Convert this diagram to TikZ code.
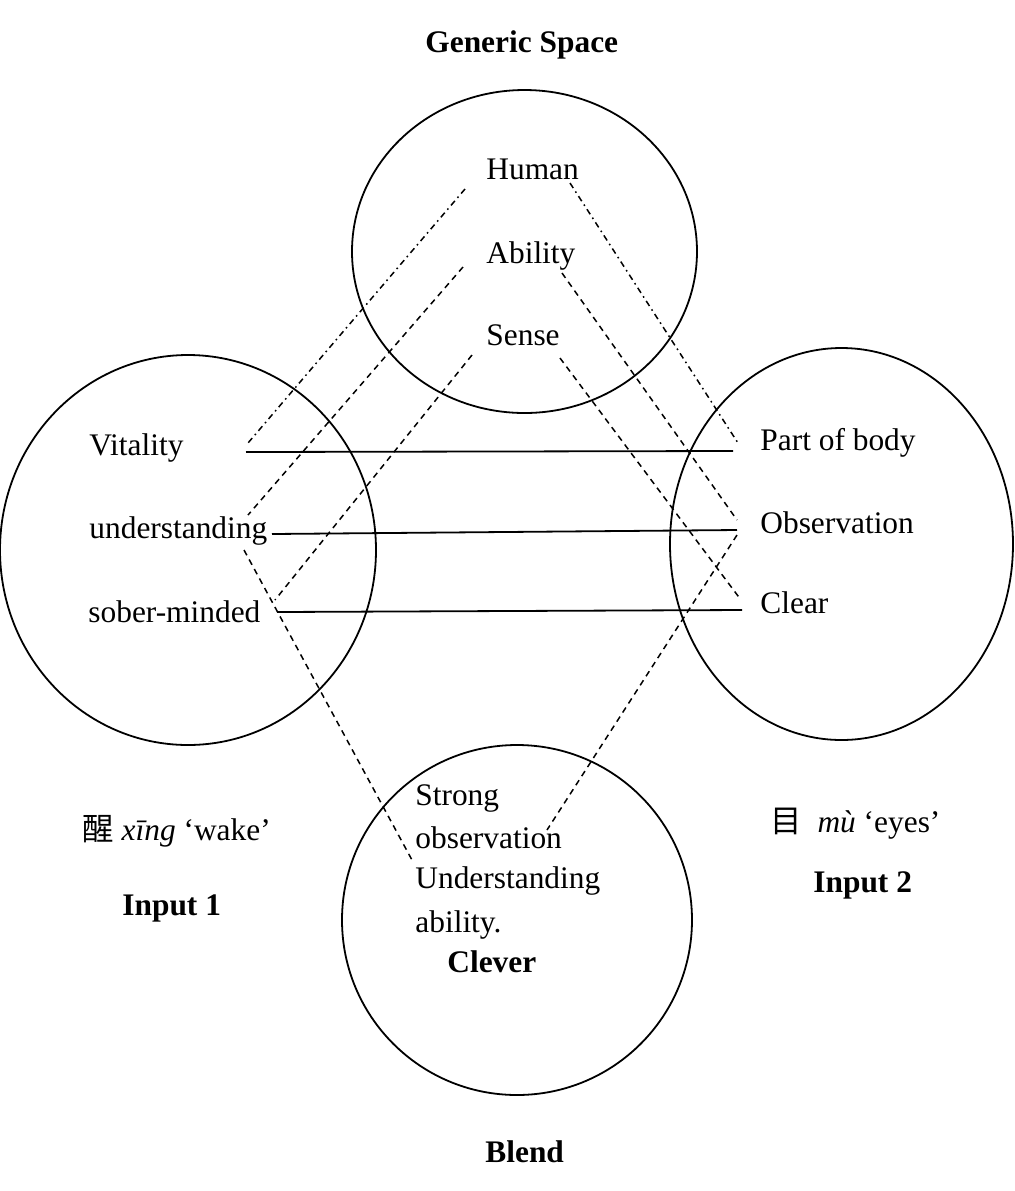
\documentclass[tikz,border=0pt]{standalone}
\usepackage{fontspec}
\setmainfont{Liberation Serif}
\newfontfamily\cjk{Noto Sans CJK SC}
\usetikzlibrary{shapes.geometric}
\tikzset{
  space/.style={draw, ellipse, inner sep=0pt, line width=0.9pt},
  lbl/.style={anchor=base west, inner sep=0pt, font=\fontsize{15.7}{19}\selectfont},
  blbl/.style={anchor=base west, inner sep=0pt, font=\fontsize{15.7}{19}\selectfont\bfseries},
  solidlink/.style={line width=0.9pt},
  dashlink/.style={line width=0.75pt, dash pattern=on 3pt off 2.4pt},
  dotdashlink/.style={line width=0.75pt, dash pattern=on 3pt off 2pt on 0.8pt off 2pt}
}
\begin{document}
\begin{tikzpicture}[x=0.5pt,y=-0.5pt]
\useasboundingbox[fill=white] (0,0) rectangle (1014,1191);
% spaces
\node[space, minimum width=172.5pt, minimum height=161.5pt] (generic) at (524.5,251.5) {};
\node[space, minimum width=188pt, minimum height=195pt] (input1) at (188,550) {};
\node[space, minimum width=171.5pt, minimum height=196pt] (input2) at (841.5,544) {};
\node[space, minimum width=175pt, minimum height=175pt] (blend) at (517,920) {};
% titles
\node[blbl] (tGeneric) at (425,52) {Generic Space};
\node[blbl] (tBlend) at (485,1162) {Blend};
\node[blbl] (tIn1) at (122,915) {Input 1};
\node[blbl] (tIn2) at (813,892) {Input 2};
\node[lbl] (gl1) at (82,840) {{\cjk 醒} \textit{xīng} ‘wake’};
\node[lbl] (gl2) at (770,832) {{\cjk 目}\ \ \textit{mù} ‘eyes’};
% generic space
\node[lbl] (human) at (486,179) {Human};
\node[lbl] (ability) at (486,263) {Ability};
\node[lbl] (sense) at (486,345) {Sense};
% input 1
\node[lbl] (vital) at (89,455) {Vitality};
\node[lbl] (under) at (89,538) {understanding};
\node[lbl] (sober) at (88,622) {sober-minded};
% input 2
\node[lbl] (body) at (760,450) {Part of body};
\node[lbl] (obs) at (760,533) {Observation};
\node[lbl] (clear) at (760,613) {Clear};
% blend
\node[lbl] (b1) at (415,805) {Strong};
\node[lbl] (b2) at (415,848) {observation};
\node[lbl] (b3) at (415,888) {Understanding};
\node[lbl] (b4) at (415,932) {ability.};
\node[blbl] (clever) at (447,972) {Clever};
% connector end points
\coordinate (hL) at (465,189);
\coordinate (aL) at (463,267);
\coordinate (sL) at (472,355);
\coordinate (hR) at (570,183);
\coordinate (aR) at (562,273);
\coordinate (sR) at (560,358);
\coordinate (vE) at (248,443);
\coordinate (uE) at (248,515);
\coordinate (smE) at (275,600);
\coordinate (pbE) at (738,443);
\coordinate (obE) at (737,520);
\coordinate (clE) at (741,600);
\coordinate (uD) at (244,550);
\coordinate (oD) at (737,535);
\coordinate (bS) at (547,830);
\coordinate (bU) at (412,860);
\coordinate (v1) at (246,452);
\coordinate (v2) at (733,451);
\coordinate (u1) at (272,534);
\coordinate (u2) at (737,530);
\coordinate (s1) at (277,612);
\coordinate (s2) at (742,610);
% solid cross-space links
\draw[solidlink] (v1) -- (v2);
\draw[solidlink] (u1) -- (u2);
\draw[solidlink] (s1) -- (s2);
% generic to inputs
\draw[dotdashlink] (hL) -- (vE);
\draw[dashlink] (aL) -- (uE);
\draw[dashlink] (sL) -- (smE);
\draw[dotdashlink] (hR) -- (pbE);
\draw[dashlink] (aR) -- (obE);
\draw[dashlink] (sR) -- (clE);
% inputs to blend
\draw[dashlink] (uD) -- (bU);
\draw[dashlink] (oD) -- (bS);
\end{tikzpicture}
\end{document}
